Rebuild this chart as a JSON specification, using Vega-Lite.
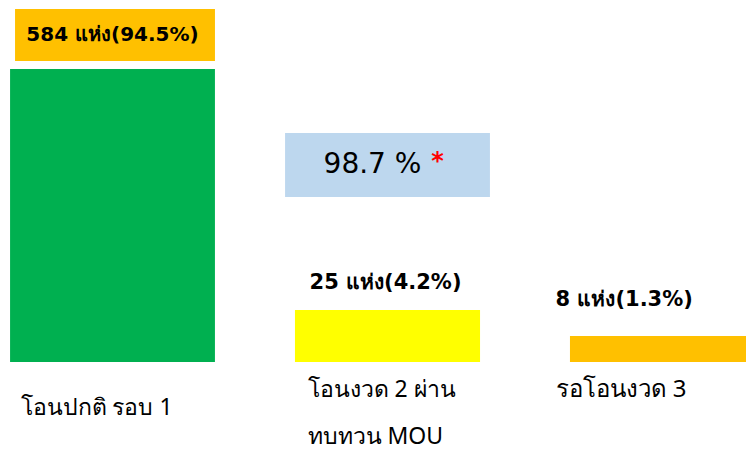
{
  "$schema": "https://vega.github.io/schema/vega-lite/v6.json",
  "width": 746,
  "height": 453,
  "autosize": "none",
  "padding": 0,
  "background": "white",
  "config": {"view": {"stroke": null}, "text": {"font": "Tahoma, Noto Sans, sans-serif", "color": "#000000"}},
  "data": {"values": [
    {"cat": "c1", "label": "โอนปกติ รอบ 1", "label2": "", "count": 584, "pct": 94.5, "note": "584 แห่ง(94.5%)", "h": 293},
    {"cat": "c2", "label": "โอนงวด 2 ผ่าน", "label2": "ทบทวน MOU", "count": 25, "pct": 4.2, "note": "25 แห่ง(4.2%)", "h": 52},
    {"cat": "c3", "label": "รอโอนงวด 3", "label2": "", "count": 8, "pct": 1.3, "note": "8 แห่ง(1.3%)", "h": 26}
  ]},
  "layer": [
    {
      "transform": [{"filter": "datum.cat == 'c1'"}],
      "mark": {"type": "bar", "width": {"band": 0.745}},
      "encoding": {
        "x": {"field": "cat", "type": "nominal", "axis": null, "scale": {"domain": ["c1", "c2", "c3"], "range": [-25, 800], "paddingInner": 0, "paddingOuter": 0}},
        "y": {"field": "h", "type": "quantitative", "axis": null, "scale": {"domain": [-91, 362], "nice": false, "zero": false}},
        "color": {"field": "cat", "type": "nominal", "legend": null, "scale": {"domain": ["c1", "c2", "c3"], "range": ["#00B050", "#FFFF00", "#FFC000"]}}
      }
    },
    {
      "transform": [{"filter": "datum.cat != 'c1'"}],
      "mark": {"type": "bar", "width": {"band": 0.673}},
      "encoding": {
        "x": {"field": "cat", "type": "nominal"},
        "y": {"field": "h", "type": "quantitative"},
        "color": {"field": "cat", "type": "nominal", "legend": null}
      }
    },
    {
      "transform": [{"filter": "datum.cat == 'c1'"}],
      "mark": {"type": "bar", "width": {"band": 0.727}, "color": "#FFC000", "xOffset": 2.5},
      "encoding": {
        "x": {"field": "cat", "type": "nominal"},
        "y": {"datum": 353, "type": "quantitative"},
        "y2": {"datum": 301}
      }
    },
    {
      "transform": [{"filter": "datum.cat == 'c1'"}],
      "mark": {"type": "text", "font": "DejaVu Sans", "fontSize": 20, "fontWeight": "bold", "baseline": "middle", "dx": 0},
      "encoding": {
        "x": {"field": "cat", "type": "nominal"},
        "y": {"datum": 327, "type": "quantitative"},
        "text": {"field": "note"}
      }
    },
    {
      "data": {"values": [{"text": "98.7 %", "pct": 98.7, "mark": "*"}]},
      "mark": {"type": "bar", "width": {"band": 0.745}, "color": "#BDD7EE"},
      "encoding": {
        "x": {"datum": "c2", "type": "nominal"},
        "y": {"datum": 229, "type": "quantitative"},
        "y2": {"datum": 165}
      }
    },
    {
      "data": {"values": [{"text": "98.7 %", "pct": 98.7, "mark": "*"}]},
      "mark": {"type": "text", "font": "DejaVu Sans", "fontSize": 28, "baseline": "middle", "dx": -15},
      "encoding": {
        "x": {"datum": "c2", "type": "nominal"},
        "y": {"datum": 197, "type": "quantitative"},
        "text": {"field": "text"}
      }
    },
    {
      "data": {"values": [{"text": "98.7 %", "pct": 98.7, "mark": "*"}]},
      "mark": {"type": "text", "font": "DejaVu Sans", "fontSize": 24, "fontWeight": "bold", "baseline": "middle", "dx": 50, "dy": -3, "color": "#FF0000"},
      "encoding": {
        "x": {"datum": "c2", "type": "nominal"},
        "y": {"datum": 197, "type": "quantitative"},
        "text": {"field": "mark"}
      }
    },
    {
      "transform": [{"filter": "datum.cat == 'c2'"}],
      "mark": {"type": "text", "font": "DejaVu Sans", "fontSize": 21, "fontWeight": "bold", "baseline": "middle", "dx": -2},
      "encoding": {
        "x": {"field": "cat", "type": "nominal"},
        "y": {"datum": 79, "type": "quantitative"},
        "text": {"field": "note"}
      }
    },
    {
      "transform": [{"filter": "datum.cat == 'c3'"}],
      "mark": {"type": "text", "font": "DejaVu Sans", "fontSize": 21, "fontWeight": "bold", "baseline": "middle", "align": "left", "dx": -107},
      "encoding": {
        "x": {"field": "cat", "type": "nominal"},
        "y": {"datum": 62, "type": "quantitative"},
        "text": {"field": "note"}
      }
    },
    {
      "transform": [{"filter": "datum.cat == 'c1'"}],
      "mark": {"type": "text", "fontSize": 23, "baseline": "middle", "align": "left", "dx": -92},
      "encoding": {
        "x": {"field": "cat", "type": "nominal"},
        "y": {"datum": -46, "type": "quantitative"},
        "text": {"field": "label"}
      }
    },
    {
      "transform": [{"filter": "datum.cat == 'c2'"}],
      "mark": {"type": "text", "fontSize": 23, "baseline": "middle", "align": "left", "dx": -80},
      "encoding": {
        "x": {"field": "cat", "type": "nominal"},
        "y": {"datum": -28, "type": "quantitative"},
        "text": {"field": "label"}
      }
    },
    {
      "transform": [{"filter": "datum.cat == 'c2'"}],
      "mark": {"type": "text", "fontSize": 23, "baseline": "middle", "align": "left", "dx": -80},
      "encoding": {
        "x": {"field": "cat", "type": "nominal"},
        "y": {"datum": -75, "type": "quantitative"},
        "text": {"field": "label2"}
      }
    },
    {
      "transform": [{"filter": "datum.cat == 'c3'"}],
      "mark": {"type": "text", "fontSize": 24, "baseline": "middle", "align": "left", "dx": -107},
      "encoding": {
        "x": {"field": "cat", "type": "nominal"},
        "y": {"datum": -28, "type": "quantitative"},
        "text": {"field": "label"}
      }
    }
  ]
}
